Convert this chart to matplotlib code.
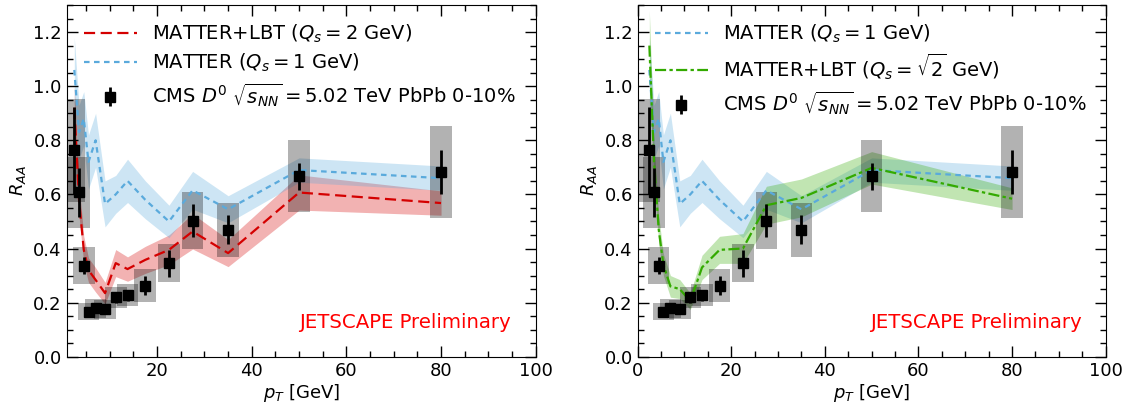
import numpy as np
import matplotlib
matplotlib.use("Agg")
import matplotlib.pyplot as plt
from matplotlib.ticker import MultipleLocator

# CMS D0 RAA, PbPb 0-10%, 5.02 TeV
pt = [2.5, 3.5, 4.5, 5.5, 7.0, 9.0, 11.25, 13.75, 17.5, 22.5, 27.5, 35.0, 50.0, 80.0]
cms_raa = [0.763, 0.607, 0.337, 0.167, 0.179, 0.176, 0.219, 0.227, 0.263, 0.346, 0.503, 0.470, 0.667, 0.683]
cms_stat = [0.16, 0.09, 0.03, 0.015, 0.015, 0.015, 0.02, 0.02, 0.035, 0.05, 0.06, 0.055, 0.05, 0.08]
cms_sys = [0.19, 0.13, 0.068, 0.033, 0.035, 0.035, 0.04, 0.04, 0.06, 0.07, 0.105, 0.10, 0.133, 0.17]
box_width = 4.6

# MATTER (Qs = 1 GeV)
matter_q1 = [1.06, 0.83, 0.88, 0.72, 0.80, 0.565, 0.60, 0.65, 0.58, 0.50, 0.615, 0.545, 0.69, 0.66]
matter_q1_err = [0.12, 0.10, 0.10, 0.10, 0.10, 0.085, 0.07, 0.08, 0.07, 0.06, 0.07, 0.05, 0.045, 0.045]

# MATTER+LBT (Qs = 2 GeV)
lbt_q2 = [0.92, 0.58, 0.395, 0.32, 0.284, 0.235, 0.346, 0.324, 0.358, 0.395, 0.463, 0.383, 0.607, 0.568]
lbt_q2_err = [0.08, 0.06, 0.05, 0.045, 0.045, 0.04, 0.05, 0.045, 0.05, 0.055, 0.065, 0.05, 0.065, 0.045]

# MATTER+LBT (Qs = sqrt2 GeV)
lbt_qs2 = [1.15, 0.72, 0.47, 0.34, 0.26, 0.25, 0.205, 0.33, 0.395, 0.40, 0.56, 0.587, 0.698, 0.584]
lbt_qs2_err = [0.13, 0.07, 0.05, 0.04, 0.04, 0.035, 0.03, 0.045, 0.05, 0.055, 0.07, 0.07, 0.06, 0.04]

red = "#d40000"
blue = "#5aaadc"
green = "#33aa00"

fs = 13

fig = plt.figure(figsize=(11.33, 4.08), dpi=100)
ax1 = fig.add_axes([0.0589, 0.1257, 0.4139, 0.862])
ax2 = fig.add_axes([0.5628, 0.1257, 0.4131, 0.862])

pt_a = np.array(pt)


def draw_model(ax, y, err, color, ls, label, lw=1.6):
    y = np.array(y)
    err = np.array(err)
    ax.fill_between(pt_a, y - err, y + err, color=color, alpha=0.3, lw=0)
    ax.plot(pt_a, y, color=color, ls=ls, lw=lw, label=label)


def draw_cms(ax):
    raa = np.array(cms_raa)
    sys = np.array(cms_sys)
    ax.bar(pt_a, 2 * sys, bottom=raa - sys, width=box_width, color="k", alpha=0.3, lw=0)
    ax.errorbar(pt_a, raa, yerr=cms_stat, fmt="s", color="k", ms=6.5, elinewidth=2, capsize=0,
                label=r"CMS $D^0$ $\sqrt{s_{NN}} = 5.02$ TeV PbPb 0-10%")


def style(ax, xmin):
    ax.set_xlim(xmin, 100)
    ax.set_ylim(0, 1.3)
    ax.xaxis.set_major_locator(MultipleLocator(20))
    ax.xaxis.set_minor_locator(MultipleLocator(5))
    ax.yaxis.set_major_locator(MultipleLocator(0.2))
    ax.yaxis.set_minor_locator(MultipleLocator(0.05))
    ax.tick_params(which="both", direction="in", top=True, right=True, labelsize=fs)
    ax.tick_params(which="major", length=8, width=1)
    ax.tick_params(which="minor", length=4, width=1)
    ax.set_xlabel(r"$p_T$ [GeV]", fontsize=fs, labelpad=2)
    ax.set_ylabel(r"$R_{AA}$", fontsize=fs, labelpad=4)
    ax.text(0.948, 0.096, "JETSCAPE Preliminary", color="red", fontsize=14.2,
            ha="right", va="center", transform=ax.transAxes)
    ax.legend(loc="upper left", frameon=False, fontsize=14, handlelength=2.7,
              handletextpad=0.8, labelspacing=0.36, borderaxespad=0.5)


# left panel
draw_model(ax1, lbt_q2, lbt_q2_err, red, (0, (5, 2.5)), r"MATTER+LBT ($Q_s = 2$ GeV)")
draw_model(ax1, matter_q1, matter_q1_err, blue, (0, (2.5, 2)), r"MATTER ($Q_s = 1$ GeV)")
draw_cms(ax1)
style(ax1, 0.9)

# right panel
draw_model(ax2, matter_q1, matter_q1_err, blue, (0, (2.5, 2)), r"MATTER ($Q_s = 1$ GeV)")
draw_model(ax2, lbt_qs2, lbt_qs2_err, green, (0, (5, 1.5, 1.5, 1.5)), r"MATTER+LBT ($Q_s = \sqrt{2}$ GeV)")
draw_cms(ax2)
style(ax2, 0)

fig.savefig("out.png", dpi=100)
